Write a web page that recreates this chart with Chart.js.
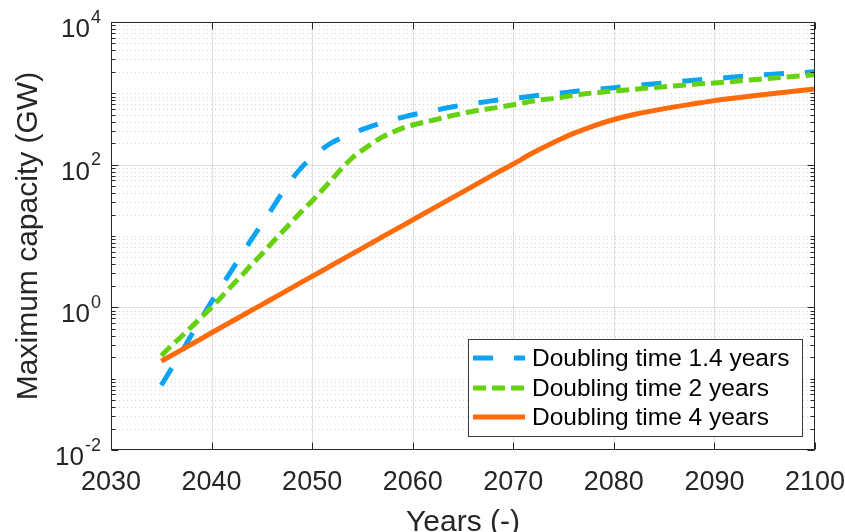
<!DOCTYPE html>
<html>
<head>
<meta charset="utf-8">
<title>Maximum capacity</title>
<script src="https://cdn.jsdelivr.net/npm/chart.js@4"></script>
<style>
  html, body { margin: 0; padding: 0; background: #fff; }
  canvas { display: block; }
</style>
</head>
<body>
<canvas id="capChart" width="845" height="532"></canvas>
<script>
// Years sampled along the three growth curves
const years = [2035, 2036, 2037, 2038, 2039, 2040, 2041, 2042, 2043, 2044, 2045, 2046, 2047, 2048, 2049,
    2050, 2051, 2052, 2053, 2054, 2055, 2056, 2057, 2058, 2059, 2060, 2062, 2064, 2066, 2068, 2070,
    2072, 2074, 2075, 2076, 2077, 2078, 2080, 2082, 2085, 2088, 2090, 2095, 2100];

// Maximum capacity (GW) for each doubling time
const cap14 = [0.081, 0.138, 0.234, 0.41, 0.71, 1.2, 2.0, 3.3, 5.5, 9.1, 14.8, 24, 40, 63, 93,
    126, 165, 205, 240, 275, 312, 350, 388, 425, 462, 500, 570, 650, 720, 790, 850,
    920, 990, 1020, 1060, 1100, 1130, 1200, 1280, 1400, 1530, 1610, 1820, 2000];
const cap2 = [0.21, 0.29, 0.39, 0.53, 0.73, 1.0, 1.41, 2.0, 2.8, 4.0, 5.6, 8.0, 11.3, 16, 22.5,
    31, 44, 63, 90, 125, 160, 200, 245, 285, 325, 360, 420, 490, 560, 620, 690,
    780, 850, 890, 935, 980, 1010, 1080, 1140, 1240, 1340, 1400, 1600, 1820];
const cap4 = [0.176, 0.211, 0.253, 0.304, 0.365, 0.44, 0.528, 0.633, 0.76, 0.912, 1.09, 1.31, 1.57, 1.89, 2.27,
    2.72, 3.26, 3.92, 4.7, 5.64, 6.77, 8.12, 9.75, 11.7, 14.0, 16.8, 24.2, 34.8, 50, 72, 102,
    148, 205, 238, 275, 310, 350, 430, 505, 610, 715, 790, 960, 1150];

const seriesNames = ["Doubling time 1.4 years", "Doubling time 2 years", "Doubling time 4 years"];
const xTicks = [2030, 2040, 2050, 2060, 2070, 2080, 2090, 2100];
const yExponents = [-2, 0, 2, 4];

const axisColor = "#262626";
const fontFamily = "'Liberation Sans', Arial, Helvetica, sans-serif";

function toPoints(values) {
    return years.map((yr, i) => ({ x: yr, y: values[i] }));
}

// every 1..9 x 10^n line that is not a labelled decade
function minorValues() {
    const out = [];
    for (let e = -2; e < 4; e++) {
        for (let k = 1; k <= 9; k++) {
            if (k === 1 && yExponents.includes(e)) continue;
            out.push(k * Math.pow(10, e));
        }
    }
    return out;
}

function hLine(ctx, x1, x2, y) {
    ctx.beginPath();
    ctx.moveTo(x1, y);
    ctx.lineTo(x2, y);
    ctx.stroke();
}

function vLine(ctx, x, y1, y2) {
    ctx.beginPath();
    ctx.moveTo(x, y1);
    ctx.lineTo(x, y2);
    ctx.stroke();
}

const framePlugin = {
    id: "frame",
    beforeDatasetsDraw(chart) {
        const { ctx, chartArea: a, scales: { x, y } } = chart;
        ctx.save();
        ctx.lineWidth = 1;

        // dotted minor grid
        ctx.strokeStyle = "rgba(38,38,38,0.2)";
        ctx.setLineDash([1, 3]);
        minorValues().forEach(v => {
            const py = Math.round(y.getPixelForValue(v)) + 0.5;
            hLine(ctx, a.left, a.right, py);
        });

        // solid major grid
        ctx.setLineDash([]);
        ctx.strokeStyle = "rgba(38,38,38,0.15)";
        xTicks.slice(1, -1).forEach(t => {
            const px = Math.round(x.getPixelForValue(t)) + 0.5;
            vLine(ctx, px, a.top, a.bottom);
        });
        yExponents.slice(1, -1).forEach(e => {
            const py = Math.round(y.getPixelForValue(Math.pow(10, e))) + 0.5;
            hLine(ctx, a.left, a.right, py);
        });
        ctx.restore();
    },
    afterDatasetsDraw(chart) {
        const { ctx, chartArea: a, scales: { x, y } } = chart;
        const L = a.left + 0.5, R = a.right - 0.5, T = a.top + 0.5, B = a.bottom - 0.5;
        ctx.save();

        // box
        ctx.strokeStyle = axisColor;
        ctx.lineWidth = 1;
        ctx.strokeRect(L, T, R - L, B - T);

        // inward tick marks
        xTicks.forEach(t => {
            const px = Math.round(x.getPixelForValue(t)) + 0.5;
            vLine(ctx, px, B, B - 7);
            vLine(ctx, px, T, T + 7);
        });
        yExponents.forEach(e => {
            const py = Math.round(y.getPixelForValue(Math.pow(10, e))) + 0.5;
            hLine(ctx, L, L + 7, py);
            hLine(ctx, R, R - 7, py);
        });
        minorValues().forEach(v => {
            const py = Math.round(y.getPixelForValue(v)) + 0.5;
            hLine(ctx, L, L + 4, py);
            hLine(ctx, R, R - 4, py);
        });

        // y tick labels as 10 with a raised exponent
        ctx.fillStyle = axisColor;
        ctx.textBaseline = "alphabetic";
        yExponents.forEach(e => {
            const py = y.getPixelForValue(Math.pow(10, e));
            const sup = String(e);
            ctx.font = "18px " + fontFamily;
            const wSup = ctx.measureText(sup).width;
            const supX = 101 - wSup;
            ctx.textAlign = "left";
            ctx.fillText(sup, supX, py + 0.5);
            ctx.font = "26px " + fontFamily;
            ctx.textAlign = "right";
            ctx.fillText("10", supX - 1, py + 15);
        });

        // axis titles
        ctx.font = "30px " + fontFamily;
        ctx.textAlign = "center";
        ctx.fillText("Years (-)", (a.left + a.right) / 2, 531);
        ctx.save();
        ctx.translate(37, (a.top + a.bottom) / 2);
        ctx.rotate(-Math.PI / 2);
        ctx.fillText("Maximum capacity (GW)", 0, 0);
        ctx.restore();

        // legend
        const box = { x: 468.5, y: 339.5, w: 334, h: 97 };
        ctx.fillStyle = "#fff";
        ctx.fillRect(box.x, box.y, box.w, box.h);
        ctx.strokeStyle = "#3c3c3c";
        ctx.lineWidth = 1;
        ctx.strokeRect(box.x, box.y, box.w, box.h);
        const rows = [358, 388, 417];
        chart.data.datasets.forEach((ds, i) => {
            ctx.strokeStyle = ds.borderColor;
            ctx.lineWidth = ds.borderWidth;
            ctx.lineCap = "butt";
            ctx.setLineDash(ds.borderDash || []);
            hLine(ctx, 473, 525, rows[i]);
            ctx.setLineDash([]);
            ctx.fillStyle = "#000";
            ctx.font = "24.5px " + fontFamily;
            ctx.textAlign = "left";
            ctx.textBaseline = "middle";
            ctx.fillText(ds.label, 532, rows[i] + 1);
        });
        ctx.restore();
    }
};

new Chart(document.getElementById("capChart"), {
    type: "line",
    data: {
        datasets: [
            {
                label: seriesNames[0],
                data: toPoints(cap14),
                borderColor: "#0ba3f4",
                borderWidth: 5,
                borderDash: [20, 21],
                order: 3
            },
            {
                label: seriesNames[1],
                data: toPoints(cap2),
                borderColor: "#66d10f",
                borderWidth: 5,
                borderDash: [13, 6],
                order: 2
            },
            {
                label: seriesNames[2],
                data: toPoints(cap4),
                borderColor: "#ff6a0a",
                borderWidth: 5,
                borderDash: [],
                order: 1
            }
        ]
    },
    options: {
        responsive: false,
        animation: false,
        events: [],
        layout: { padding: { top: 22, right: 30, left: 0, bottom: 0 } },
        elements: {
            point: { radius: 0 },
            line: { fill: false, cubicInterpolationMode: "monotone", borderCapStyle: "butt" }
        },
        plugins: {
            legend: { display: false },
            tooltip: { enabled: false }
        },
        scales: {
            x: {
                type: "linear",
                min: 2030,
                max: 2100,
                grid: { display: false, drawTicks: false },
                border: { display: false },
                ticks: {
                    stepSize: 10,
                    autoSkip: false,
                    maxRotation: 0,
                    padding: 16,
                    color: axisColor,
                    font: { family: fontFamily, size: 27 },
                    callback: v => String(v)
                },
                afterFit(scale) {
                    scale.height = 82;
                    scale.paddingLeft = 0;
                    scale.paddingRight = 0;
                }
            },
            y: {
                type: "logarithmic",
                min: 0.01,
                max: 10000,
                grid: { display: false, drawTicks: false },
                border: { display: false },
                ticks: { display: false },
                afterFit(scale) {
                    scale.width = 111;
                    scale.paddingTop = 0;
                    scale.paddingBottom = 0;
                }
            }
        }
    },
    plugins: [framePlugin]
});
</script>
</body>
</html>
